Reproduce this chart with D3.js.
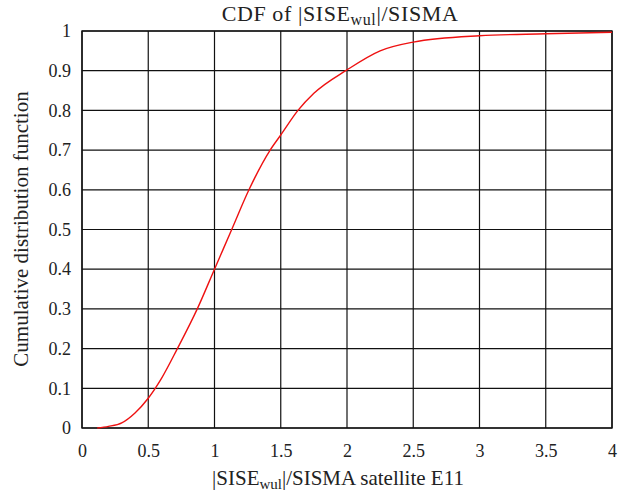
<!DOCTYPE html>
<html>
<head>
<meta charset="utf-8">
<script src="https://cdn.jsdelivr.net/npm/d3@7"></script>
<style>
  body { margin: 0; background: #fff; }
  text { font-family: "Liberation Serif", "DejaVu Serif", serif; fill: #222; }
</style>
</head>
<body>
<svg width="629" height="492"></svg>
<script>
// CDF
var xVals = [0.115, 0.2, 0.3, 0.4, 0.5, 0.6, 0.72, 0.87, 1.0, 1.13, 1.26, 1.42, 1.5, 1.63, 1.75, 2.0, 2.25, 2.5, 3.0, 3.5, 4.0];
var cdfVals = [0, 0.004, 0.013, 0.038, 0.075, 0.125, 0.2, 0.3, 0.4, 0.5, 0.6, 0.7, 0.738, 0.8, 0.843, 0.902, 0.95, 0.972, 0.988, 0.993, 0.997];
var xTicks = [0, 0.5, 1, 1.5, 2, 2.5, 3, 3.5, 4];
var yTicks = [0, 0.1, 0.2, 0.3, 0.4, 0.5, 0.6, 0.7, 0.8, 0.9, 1];

var svg = d3.select("svg"),
    margin = {top: 31, right: 17, bottom: 64, left: 82},
    width = +svg.attr("width") - margin.left - margin.right,
    height = +svg.attr("height") - margin.top - margin.bottom;

var g = svg.append("g").attr("transform", "translate(" + margin.left + "," + margin.top + ")");

var x = d3.scaleLinear().domain([0, 4]).range([0, width]);
var y = d3.scaleLinear().domain([0, 1]).range([height, 0]);

// grid
g.append("g").selectAll("line")
    .data(xTicks)
    .enter().append("line")
    .attr("x1", function(d) { return x(d); })
    .attr("x2", function(d) { return x(d); })
    .attr("y1", 0).attr("y2", height)
    .attr("stroke", "#111").attr("stroke-width", 1.2);

g.append("g").selectAll("line")
    .data(yTicks)
    .enter().append("line")
    .attr("y1", function(d) { return y(d); })
    .attr("y2", function(d) { return y(d); })
    .attr("x1", 0).attr("x2", width)
    .attr("stroke", "#111").attr("stroke-width", 1.2);

g.append("rect")
    .attr("width", width).attr("height", height)
    .attr("fill", "none").attr("stroke", "#111").attr("stroke-width", 1.4);

// axes (labels only)
var xAxis = g.append("g")
    .attr("transform", "translate(0," + height + ")")
    .call(d3.axisBottom(x).tickValues(xTicks).tickSize(0).tickPadding(16).tickFormat(d3.format("")));
var yAxis = g.append("g")
    .call(d3.axisLeft(y).tickValues(yTicks).tickSize(0).tickPadding(11).tickFormat(d3.format("")));
[xAxis, yAxis].forEach(function(a) {
    a.select(".domain").remove();
    a.selectAll("text").style("font-size", "18px").attr("fill", "#222")
        .style("font-family", "'Liberation Serif', 'DejaVu Serif', serif");
});

// curve
var pts = xVals.map(function(v, i) { return [v, cdfVals[i]]; });
g.append("path")
    .datum(pts)
    .attr("fill", "none")
    .attr("stroke", "#ee1111")
    .attr("stroke-width", 1.4)
    .attr("d", d3.line()
        .x(function(d) { return x(d[0]); })
        .y(function(d) { return y(d[1]); })
        .curve(d3.curveMonotoneX));

// title
var title = svg.append("text")
    .attr("x", 340).attr("y", 21)
    .attr("text-anchor", "middle").style("font-size", "22px").style("letter-spacing", "0.6px");
title.append("tspan").text("CDF of |SISE");
title.append("tspan").attr("dy", 4).style("font-size", "16px").text("wul");
title.append("tspan").attr("dy", -4).text("|/SISMA");

// x label
var xl = svg.append("text")
    .attr("x", 338).attr("y", 485)
    .attr("text-anchor", "middle").style("font-size", "21px");
xl.append("tspan").text("|SISE");
xl.append("tspan").attr("dy", 4).style("font-size", "15px").text("wul");
xl.append("tspan").attr("dy", -4).text("|/SISMA satellite E11");

// y label
svg.append("text")
    .attr("transform", "translate(28,229) rotate(-90)")
    .attr("text-anchor", "middle").style("font-size", "21px")
    .text("Cumulative distribution function");
</script>
</body>
</html>
